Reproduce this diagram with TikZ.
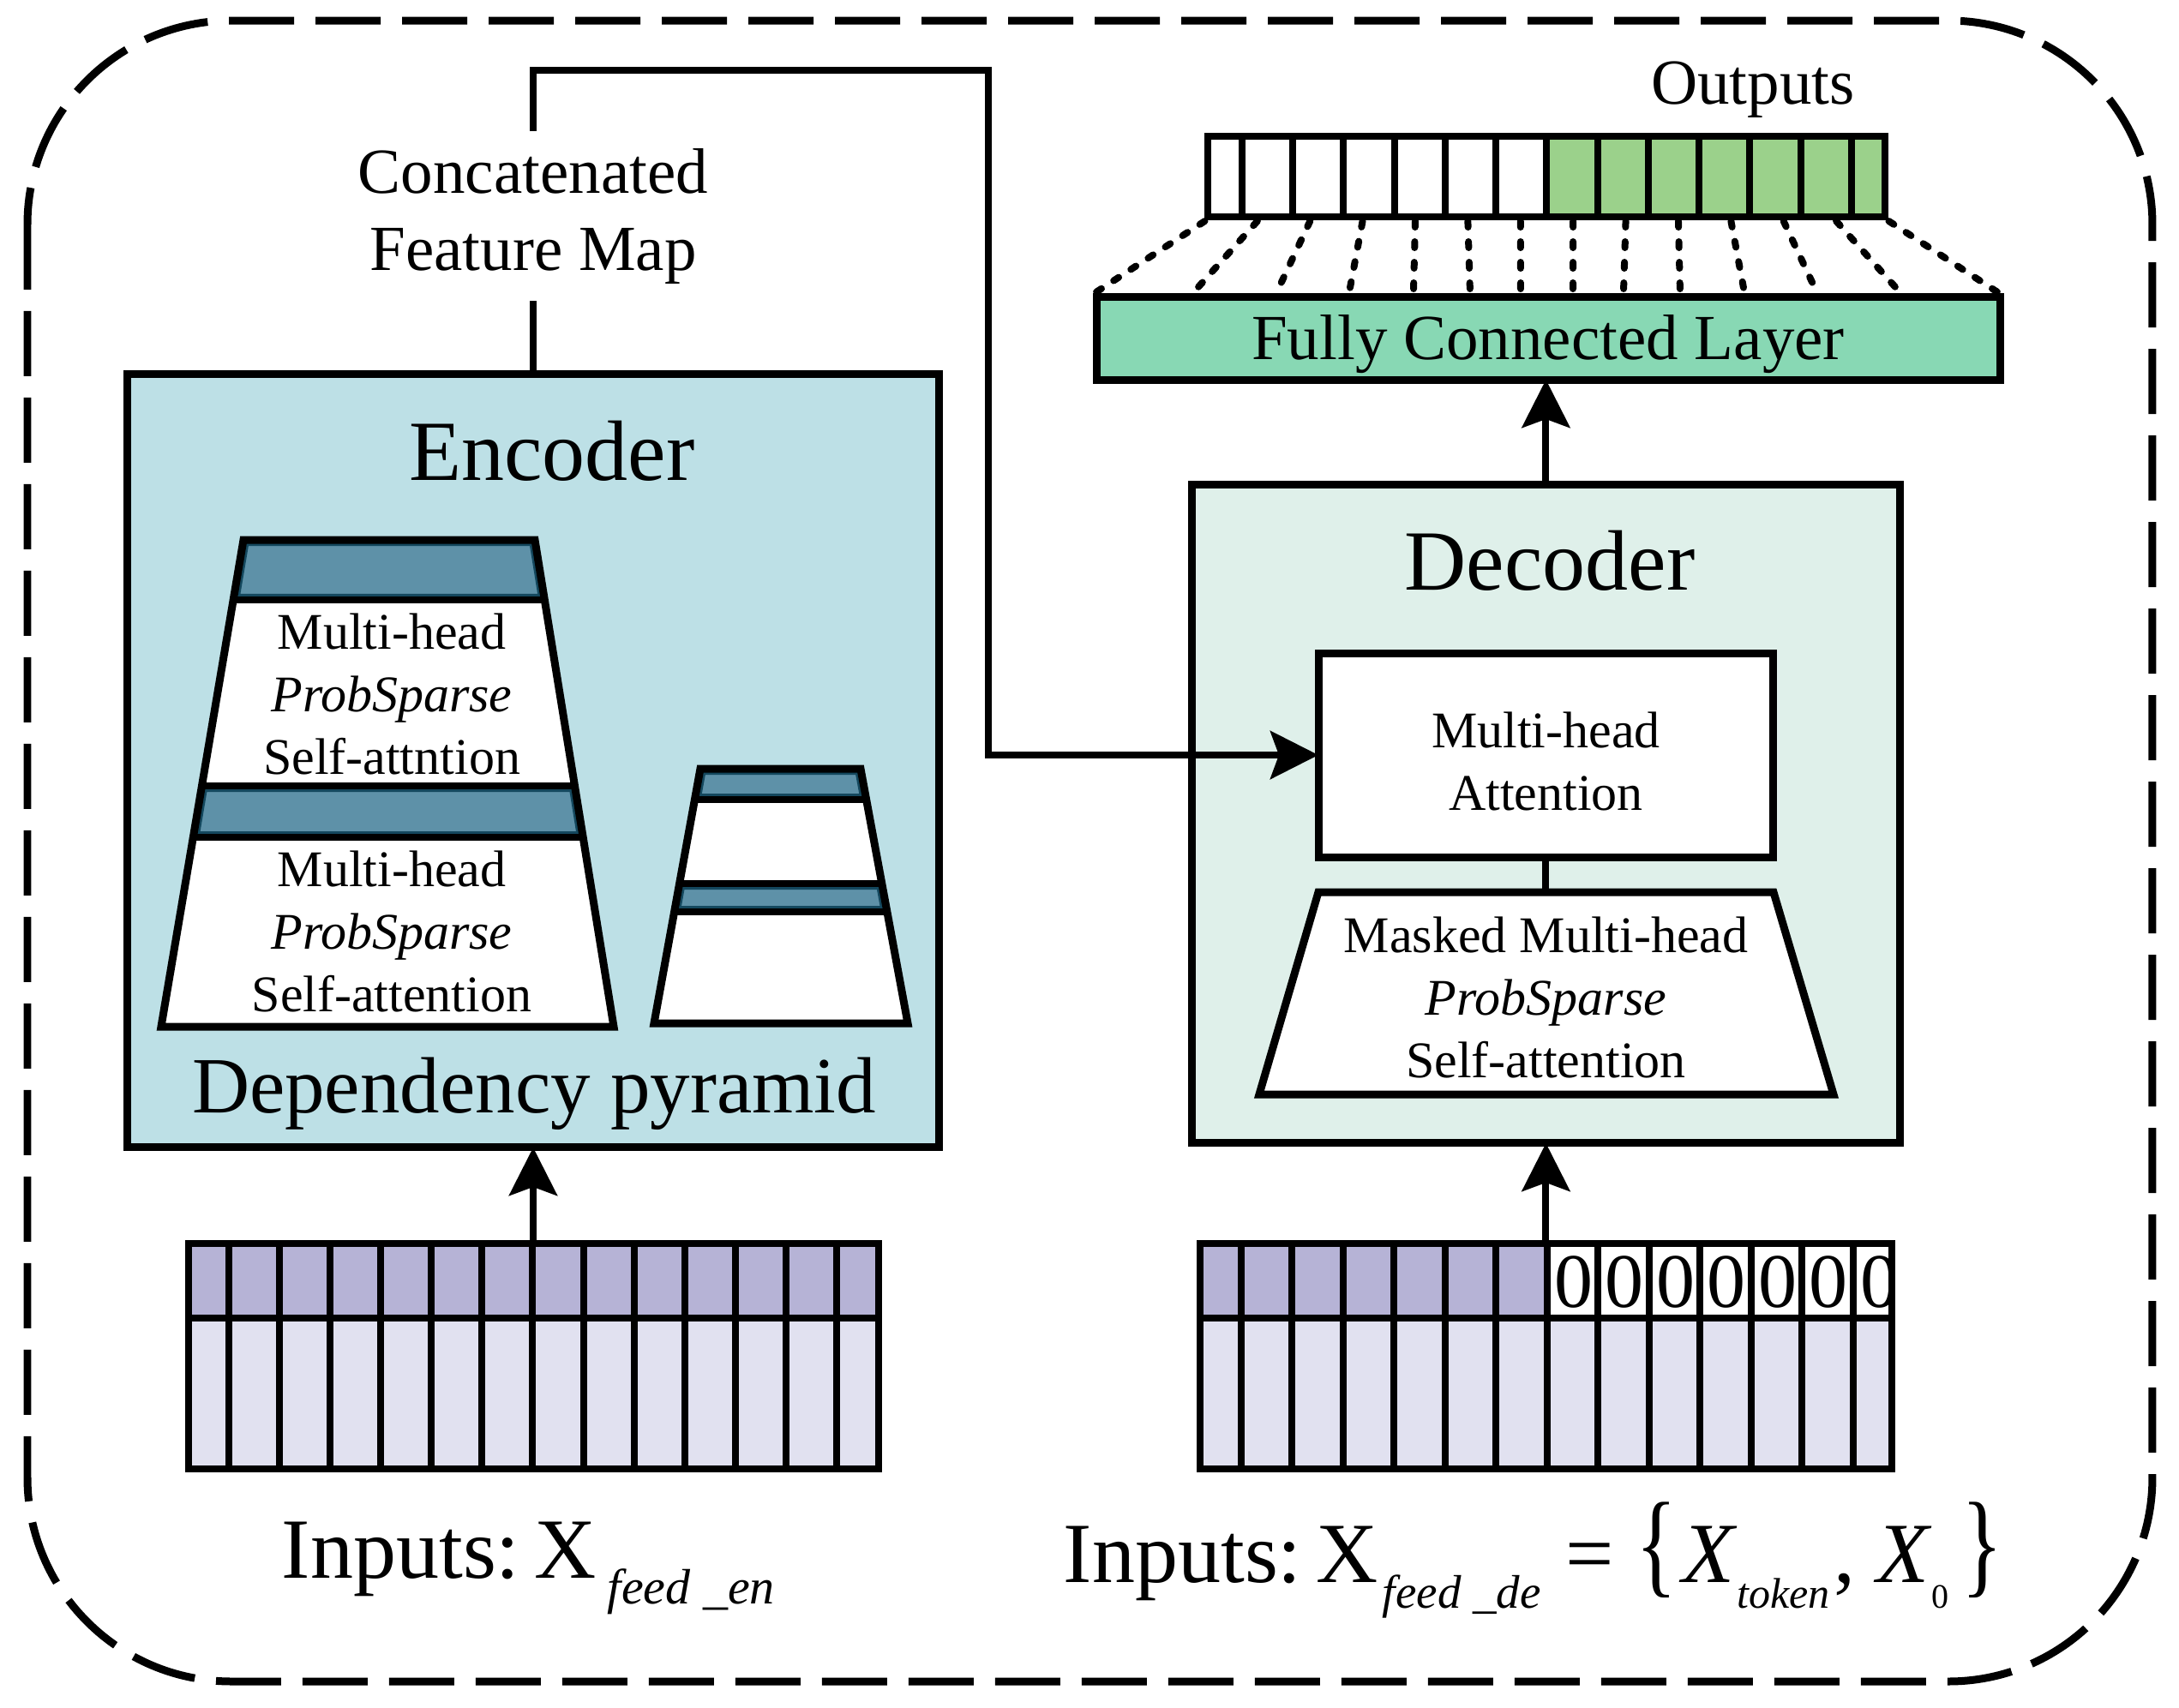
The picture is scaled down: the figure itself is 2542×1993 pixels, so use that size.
\documentclass[tikz,border=0pt]{standalone}
\usepackage{fontspec}
\setmainfont{Liberation Serif}
\usepackage{graphicx}
\usetikzlibrary{arrows.meta,calc}
\definecolor{encbg}{HTML}{BDE0E6}
\definecolor{bandc}{HTML}{5E91A8}
\definecolor{bandd}{HTML}{14485E}
\definecolor{decbg}{HTML}{DFF0EA}
\definecolor{fcbg}{HTML}{88D8B4}
\definecolor{outgreen}{HTML}{9BD18B}
\definecolor{lavdark}{HTML}{B6B3D6}
\definecolor{lavlight}{HTML}{E1E1F0}
\newcommand\fsBig{\fontsize{10}{12}\selectfont}
\newcommand\fsMid{\fontsize{7.5}{9}\selectfont}
\newcommand\fsSmall{\fontsize{6}{7.3}\selectfont}
\tikzset{
  box/.style={draw, line width=0.9pt, inner sep=0pt, outer sep=0pt},
  arr/.style={line width=0.8pt, -{Stealth[length=5.6pt,width=5.6pt,inset=1pt]}},
  conn/.style={line width=0.8pt},
  gridline/.style={line width=0.8pt},
  fcdots/.style={line width=0.8pt, line cap=round, dash pattern=on 0.7pt off 1.7pt},
  outerborder/.style={line width=0.9pt, dash pattern=on 7.6pt off 2.5pt},
  txt/.style={inner sep=0pt, outer sep=0pt},
  mtxt/.style={inner sep=0pt, outer sep=0pt, align=center, font=\fsSmall},
}
% #1 TLx #2 TRx #3 BLx #4 BRx #5 ytop #6 ybot #7 t1 #8 t2 #9 t3
\newcommand\drawpyr[9]{%
  \coordinate (pTL) at (#1,#5); \coordinate (pTR) at (#2,#5);
  \coordinate (pBL) at (#3,#6); \coordinate (pBR) at (#4,#6);
  \coordinate (pL1) at ($(pTL)!#7!(pBL)$); \coordinate (pR1) at ($(pTR)!#7!(pBR)$);
  \coordinate (pL2) at ($(pTL)!#8!(pBL)$); \coordinate (pR2) at ($(pTR)!#8!(pBR)$);
  \coordinate (pL3) at ($(pTL)!#9!(pBL)$); \coordinate (pR3) at ($(pTR)!#9!(pBR)$);
  \fill[white] (pTL)--(pTR)--(pBR)--(pBL)--cycle;
  \begin{scope}
    \clip (pTL)--(pTR)--(pR1)--(pL1)--cycle;
    \filldraw[fill=bandc, draw=bandd, line width=1.4pt] (pTL)--(pTR)--(pR1)--(pL1)--cycle;
  \end{scope}
  \begin{scope}
    \clip (pL2)--(pR2)--(pR3)--(pL3)--cycle;
    \filldraw[fill=bandc, draw=bandd, line width=1.4pt] (pL2)--(pR2)--(pR3)--(pL3)--cycle;
  \end{scope}
  \draw[gridline] (pL1)--(pR1) (pL2)--(pR2) (pL3)--(pR3);
  \draw[line width=0.9pt, line join=miter] (pTL)--(pTR)--(pBR)--(pBL)--cycle;
}
\begin{document}
\begin{tikzpicture}[x=0.1pt, y=-0.1pt]
\useasboundingbox (0,0) rectangle (2542,1993);
\fill[white] (0,0) rectangle (2542,1993);
% outer dashed border
\draw[outerborder, rounded corners=23.8pt] (32,24) rectangle (2511,1962);

% ---------------- Encoder ----------------
\node[box, fill=encbg, minimum width=94.8pt, minimum height=90.3pt] (enc) at (622,887.5) {};
\node[txt, anchor=base, font=\fsBig] (enct) at (644,560) {Encoder};
\drawpyr{284}{624}{188}{716}{630}{1198}{0.1232}{0.5053}{0.6109}
\drawpyr{817}{1004}{763}{1059}{897}{1194}{0.1212}{0.4512}{0.5623}
\node[mtxt] (att1) at (457,810) {Multi-head\\\textit{ProbSparse}\\Self-attntion};
\node[mtxt] (att2) at (457,1087) {Multi-head\\\textit{ProbSparse}\\Self-attention};
\node[txt, anchor=base, font=\fontsize{9.3}{11}\selectfont] (dep) at (623,1298) {Dependency pyramid};

% concatenated feature map
\node[txt, align=center, font=\fsMid, inner ysep=2pt] (concat) at (622,252) {Concatenated\\Feature Map};
\coordinate (ctop) at (622,82);
\coordinate (cright) at (1153,82);

% ---------------- Encoder input grid ----------------
\fill[lavdark] (220,1451) rectangle (1025,1538);
\fill[lavlight] (220,1538) rectangle (1025,1714);
\foreach \k in {0,...,12} \draw[gridline] ({267+59.08*\k},1451) -- ({267+59.08*\k},1714);
\draw[gridline] (220,1538) -- (1025,1538);
\draw[gridline, line join=miter] (220,1451) rectangle (1025,1714);
\coordinate (engrid) at (622,1451);
\node[txt, anchor=base west] (inen) at (329,1841) {\fsBig Inputs:\hspace{1.7pt}X\hspace{1.3pt}\raisebox{-3pt}{\fontsize{5.8}{7}\selectfont\itshape feed \_en}};

% ---------------- Decoder ----------------
\node[box, fill=decbg, minimum width=82.7pt, minimum height=76.9pt] (dec) at (1803.5,949.5) {};
\node[txt, anchor=base, font=\fsBig] (dect) at (1808,688) {Decoder};
\node[box, fill=white, minimum width=53.1pt, minimum height=23.8pt] (mha) at (1803.5,881) {};
\node[mtxt] (mhat) at (1803.5,888) {Multi-head\\Attention};
\draw[line width=0.9pt, fill=white, line join=miter] (1538,1041) -- (2069,1041) -- (2139,1277) -- (1469,1277) -- cycle;
\coordinate (mtop) at (1803.5,1041);
\node[mtxt] (mmt) at (1803.5,1164) {Masked Multi-head\\\textit{ProbSparse}\\Self-attention};

% ---------------- Decoder input grid ----------------
\fill[lavdark] (1400,1451) rectangle (1805,1538);
\fill[lavlight] (1400,1538) rectangle (2207,1714);
\begin{scope}
  \clip (1400,1451) rectangle (2207,1538);
  \foreach \k in {7,...,13} \node[txt, font=\fontsize{9}{10}\selectfont] (z\k) at ({1448+59.5*(\k-1)+31},1496) {0};
\end{scope}
\foreach \k in {0,...,12} \draw[gridline] ({1448+59.5*\k},1451) -- ({1448+59.5*\k},1714);
\draw[gridline] (1400,1538) -- (2207,1538);
\draw[gridline, line join=miter] (1400,1451) rectangle (2207,1714);
\coordinate (degrid) at (1803.5,1451);
\node[txt, anchor=base west] (inde) at (1241,1846) {\fsBig Inputs:\hspace{1.7pt}X\hspace{0.5pt}\raisebox{-3pt}{\fontsize{5.5}{7}\selectfont\itshape feed \_de}\hspace{2.9pt}=\hspace{2.5pt}\scalebox{1}[1.35]{\{}\hspace{0.6pt}\textit{X}\raisebox{-3pt}{\fontsize{5}{6}\selectfont\itshape token}\hspace{0.5pt},\hspace{2.5pt}\textit{X}\raisebox{-3pt}{\fontsize{4}{5}\selectfont 0}\hspace{1.5pt}\scalebox{1}[1.35]{\}}};

% ---------------- Fully connected + outputs ----------------
\node[box, fill=fcbg, minimum width=105.5pt, minimum height=9.7pt] (fc) at (1806.5,394.5) {};
\node[txt, anchor=base, font=\fsMid] (fct) at (1806,419) {Fully Connected Layer};
\fill[white] (1409,159) rectangle (1804.5,253);
\fill[outgreen] (1804.5,159) rectangle (2199,253);
\foreach \k in {0,...,12} \draw[gridline] ({1449+59.25*\k},159) -- ({1449+59.25*\k},253);
\draw[gridline, line join=miter] (1409,159) rectangle (2199,253);
\node[txt, anchor=base, font=\fsMid] (outt) at (2045,121) {Outputs};
\foreach \a/\b in {1405.5/1278.5, 1466.9/1392.5, 1528.3/1489.5, 1589.6/1574, 1651/1649, 1712.4/1715, 1773.8/1774, 1835.2/1835, 1896.6/1894, 1958/1960, 2019.4/2035, 2080.7/2119.5, 2142.1/2216.5, 2203.5/2330.5}
  \draw[fcdots] (\a,258) -- (\b,341);

% ---------------- connectors ----------------
\draw[conn] (enc.north) -- (concat.south);
\draw[arr] (concat.north) -- (ctop) -- (cright) |- (mha.west);
\draw[arr] (engrid) -- (enc.south);
\draw[arr] (degrid) -- (dec.south);
\draw[conn] (mha.south) -- (mtop);
\draw[arr] (dec.north) -- (dec.north |- fc.south);
\end{tikzpicture}
\end{document}
